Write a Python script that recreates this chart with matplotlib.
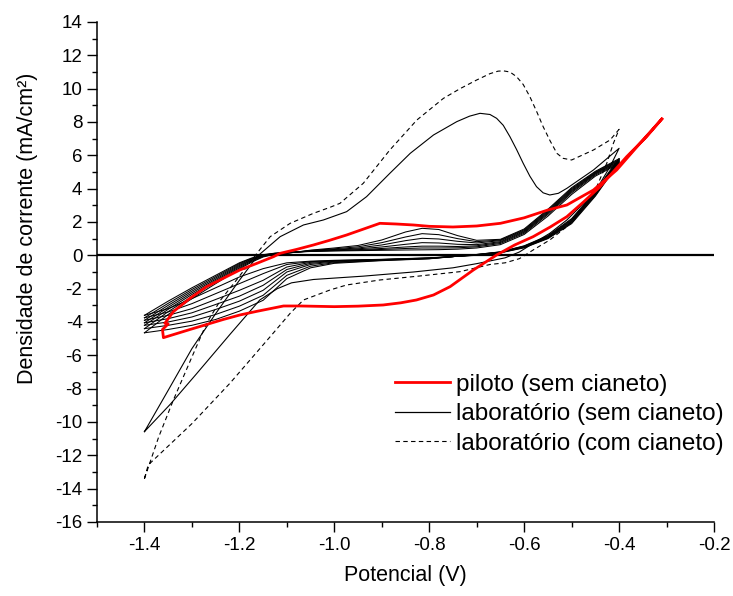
import numpy as np
import matplotlib
matplotlib.use("Agg")
import matplotlib.pyplot as plt
from matplotlib.ticker import MultipleLocator, FormatStrFormatter

plt.rcParams['font.family'] = ['Liberation Sans', 'DejaVu Sans']
plt.rcParams['axes.unicode_minus'] = False

# --- piloto (sem cianeto): one closed cycle, upper branch then lower branch
pilot_x = [-0.310, -0.356, -0.405, -0.454, -0.510, -0.550, -0.600, -0.650, -0.700,
           -0.750, -0.800, -0.833, -0.870, -0.904, -0.940, -0.974, -1.010, -1.044,
           -1.080, -1.114, -1.128, -1.163, -1.199, -1.234, -1.269, -1.304, -1.339,
           -1.357, -1.350, -1.362, -1.360,
           -1.304, -1.234, -1.199, -1.163, -1.128, -1.107, -1.072, -1.000, -0.950,
           -0.897, -0.860, -0.827, -0.791, -0.756, -0.707, -0.658, -0.620, -0.581,
           -0.545, -0.510, -0.475, -0.440, -0.384, -0.342, -0.310]
pilot_y = [8.18, 6.72, 5.12, 3.92, 3.02, 2.72, 2.25, 1.92, 1.76,
           1.70, 1.74, 1.82, 1.88, 1.92, 1.56, 1.22, 0.90, 0.62,
           0.35, 0.12, -0.08, -0.48, -0.88, -1.38, -1.88, -2.58, -3.38,
           -4.08, -4.12, -4.45, -4.94,
           -4.45, -3.85, -3.58, -3.36, -3.16, -3.04, -3.04, -3.08, -3.05,
           -2.98, -2.85, -2.68, -2.38, -1.88, -0.88, 0.02, 0.62, 1.12,
           1.70, 2.32, 3.20, 4.12, 5.92, 7.12, 8.18]

# --- laboratório (sem cianeto): first (large) cycle
lab_first_x = [-1.400, -1.350, -1.300, -1.250, -1.200, -1.163, -1.114, -1.065, -1.023,
               -0.974, -0.932, -0.883, -0.840, -0.791, -0.742, -0.715, -0.693, -0.672,
               -0.658, -0.644, -0.630, -0.616, -0.602, -0.588, -0.574, -0.560, -0.546,
               -0.528, -0.510, -0.454, -0.400,
               -0.419, -0.440, -0.475, -0.510, -0.546, -0.581, -0.610, -0.640, -0.700,
               -0.750, -0.833, -0.939, -1.044, -1.090, -1.120, -1.157, -1.220, -1.290,
               -1.346, -1.400]
lab_first_y = [-10.58, -8.10, -5.60, -3.50, -1.50, -0.08, 1.12, 1.82, 2.12,
               2.62, 3.52, 4.92, 6.12, 7.22, 8.02, 8.35, 8.52, 8.45,
               8.22, 7.80, 7.12, 6.35, 5.52, 4.75, 4.12, 3.75, 3.62,
               3.72, 4.02, 5.12, 6.42,
               5.32, 4.32, 3.12, 2.12, 1.32, 0.72, 0.20, -0.15, -0.50,
               -0.75, -1.00, -1.25, -1.45, -1.65, -2.00, -2.68, -4.75, -7.10,
               -8.95, -10.58]

# --- laboratório (sem cianeto): following cycles, anodic branch
sweep_up_x = [-1.40, -1.35, -1.30, -1.25, -1.20, -1.175, -1.15, -1.125, -1.10, -1.05,
              -1.00, -0.95, -0.90, -0.85, -0.815, -0.78, -0.74, -0.70, -0.65, -0.60,
              -0.55, -0.50, -0.45, -0.40]
sweep_up = [
    [-3.60, -2.75, -1.95, -1.20, -0.45, -0.17, 0.04, 0.13, 0.18, 0.23, 0.26, 0.28, 0.30,
     0.32, 0.33, 0.34, 0.37, 0.44, 0.64, 1.25, 2.35, 3.65, 4.75, 5.50],
    [-3.75, -2.88, -2.05, -1.28, -0.50, -0.20, 0.02, 0.12, 0.17, 0.24, 0.28, 0.31, 0.35,
     0.41, 0.44, 0.44, 0.45, 0.51, 0.71, 1.32, 2.45, 3.75, 4.82, 5.55],
    [-3.90, -3.00, -2.15, -1.36, -0.56, -0.24, 0.00, 0.11, 0.16, 0.25, 0.30, 0.34, 0.41,
     0.50, 0.55, 0.55, 0.53, 0.57, 0.77, 1.38, 2.52, 3.82, 4.88, 5.60],
    [-4.05, -3.12, -2.25, -1.44, -0.62, -0.28, -0.02, 0.10, 0.15, 0.26, 0.32, 0.39, 0.50,
     0.66, 0.76, 0.74, 0.66, 0.64, 0.82, 1.43, 2.58, 3.88, 4.92, 5.65],
    [-4.20, -3.24, -2.35, -1.52, -0.68, -0.32, -0.04, 0.09, 0.14, 0.27, 0.35, 0.44, 0.62,
     0.88, 1.02, 0.98, 0.84, 0.74, 0.88, 1.48, 2.64, 3.94, 4.96, 5.70],
    [-4.40, -3.38, -2.47, -1.60, -0.75, -0.37, -0.07, 0.08, 0.13, 0.29, 0.39, 0.51, 0.76,
     1.10, 1.30, 1.24, 1.00, 0.82, 0.92, 1.53, 2.70, 4.00, 5.00, 5.75],
    [-4.65, -3.55, -2.60, -1.70, -0.82, -0.42, -0.10, 0.07, 0.12, 0.31, 0.44, 0.59, 0.92,
     1.40, 1.62, 1.55, 1.18, 0.90, 0.96, 1.58, 2.76, 4.06, 5.04, 5.80],
]

# --- laboratório (sem cianeto): following cycles, cathodic branch
sweep_down_x = [-1.40, -1.35, -1.30, -1.25, -1.20, -1.15, -1.10, -1.05, -1.00, -0.90,
                -0.80, -0.70, -0.65, -0.60, -0.55, -0.50, -0.45, -0.42, -0.40]
sweep_down = [
    [-3.60, -3.20, -2.60, -1.95, -1.30, -0.80, -0.45, -0.35, -0.30, -0.24, -0.15, 0.00,
     0.15, 0.45, 1.00, 1.90, 3.55, 4.75, 5.50],
    [-3.75, -3.40, -2.90, -2.30, -1.70, -1.10, -0.55, -0.38, -0.32, -0.25, -0.16, 0.01,
     0.16, 0.47, 1.03, 1.95, 3.60, 4.80, 5.55],
    [-3.90, -3.60, -3.20, -2.65, -2.10, -1.50, -0.70, -0.42, -0.34, -0.26, -0.17, 0.02,
     0.17, 0.49, 1.06, 2.00, 3.65, 4.85, 5.60],
    [-4.05, -3.80, -3.45, -2.95, -2.45, -1.80, -0.85, -0.48, -0.36, -0.27, -0.18, 0.03,
     0.18, 0.51, 1.09, 2.05, 3.70, 4.90, 5.65],
    [-4.20, -4.00, -3.70, -3.25, -2.75, -2.10, -1.00, -0.55, -0.40, -0.28, -0.19, 0.04,
     0.19, 0.53, 1.12, 2.10, 3.75, 4.95, 5.70],
    [-4.40, -4.20, -3.95, -3.55, -3.05, -2.40, -1.20, -0.65, -0.44, -0.30, -0.20, 0.05,
     0.20, 0.55, 1.15, 2.15, 3.80, 5.00, 5.75],
    [-4.65, -4.45, -4.20, -3.85, -3.35, -2.70, -1.40, -0.75, -0.48, -0.32, -0.21, 0.05,
     0.21, 0.57, 1.18, 2.20, 3.85, 5.05, 5.80],
]

# --- laboratório (com cianeto)
cn_x = [-1.400, -1.370, -1.339, -1.300, -1.269, -1.240, -1.206, -1.163, -1.135, -1.093,
        -1.044, -1.009, -0.988, -0.939, -0.883, -0.826, -0.770, -0.735, -0.700, -0.672,
        -0.655, -0.644, -0.630, -0.616, -0.602, -0.588, -0.574, -0.560, -0.545, -0.531,
        -0.518, -0.500, -0.454, -0.419, -0.400,
        -0.412, -0.426, -0.447, -0.475, -0.510, -0.546, -0.581, -0.610, -0.640, -0.672,
        -0.735, -0.820, -0.904, -0.974, -1.009, -1.037, -1.065, -1.093, -1.135, -1.220,
        -1.300, -1.392, -1.400]
cn_y = [-13.40, -10.90, -8.68, -6.10, -4.08, -2.70, -1.48, 0.12, 1.12, 1.92,
        2.52, 2.88, 3.12, 4.32, 6.32, 8.12, 9.42, 10.00, 10.52, 10.90,
        11.05, 11.07, 11.00, 10.72, 10.25, 9.52, 8.65, 7.72, 6.85, 6.12,
        5.82, 5.72, 6.32, 6.92, 7.56,
        6.72, 5.52, 4.12, 2.92, 1.72, 0.92, 0.32, -0.20, -0.45, -0.55,
        -0.98, -1.24, -1.48, -1.78, -2.08, -2.38, -2.68, -3.48, -4.88, -7.68,
        -10.10, -12.58, -13.40]

y_ticks = np.arange(-16, 15, 2)

fig = plt.figure(figsize=(7.33, 5.96), dpi=100)
ax = fig.add_axes([0.1323, 0.1242, 0.8418, 0.8389])

ax.axhline(0, color='black', linewidth=1.6, zorder=1)

for up, down in zip(sweep_up, sweep_down):
    ax.plot(sweep_up_x, up, color='black', linewidth=0.75, zorder=2)
    ax.plot(sweep_down_x, down, color='black', linewidth=0.75, zorder=2)
ax.plot(lab_first_x, lab_first_y, color='black', linewidth=0.8, zorder=2)
ax.plot(cn_x, cn_y, color='black', linewidth=0.8, dashes=(4, 3), zorder=2)
ax.plot(pilot_x, pilot_y, color='red', linewidth=2.0, zorder=3)

# legend handles
h_pilot, = ax.plot([], [], color='red', linewidth=2.0)
h_lab, = ax.plot([], [], color='black', linewidth=0.9)
h_cn, = ax.plot([], [], color='black', linewidth=0.8, dashes=(4, 3))
ax.legend([h_pilot, h_lab, h_cn],
          ['piloto (sem cianeto)', 'laboratório (sem cianeto)', 'laboratório (com cianeto)'],
          loc='upper left', bbox_to_anchor=(0.483, 0.296), frameon=False,
          fontsize=17.5, handlelength=2.26, handletextpad=0.25, labelspacing=0.3,
          borderpad=0, borderaxespad=0)

ax.set_xlim(-1.5, -0.2)
ax.set_ylim(-16, 14)
ax.xaxis.set_major_locator(MultipleLocator(0.2))
ax.xaxis.set_minor_locator(MultipleLocator(0.1))
ax.xaxis.set_major_formatter(FormatStrFormatter('%.1f'))
ax.set_yticks(y_ticks)
ax.yaxis.set_minor_locator(MultipleLocator(1))

for side in ('top', 'right'):
    ax.spines[side].set_visible(False)
for side in ('left', 'bottom'):
    ax.spines[side].set_linewidth(1.1)

ax.tick_params(which='major', direction='out', length=7.5, width=1.0, labelsize=13.5, pad=3)
ax.tick_params(which='minor', direction='out', length=3.75, width=1.0)

ax.set_xlabel('Potencial (V)', fontsize=15.5, labelpad=8)
ax.set_ylabel('Densidade de corrente (mA/cm²)', fontsize=15.5)
ax.yaxis.set_label_coords(-0.095, 0.588)

fig.savefig('out.png', dpi=100)
